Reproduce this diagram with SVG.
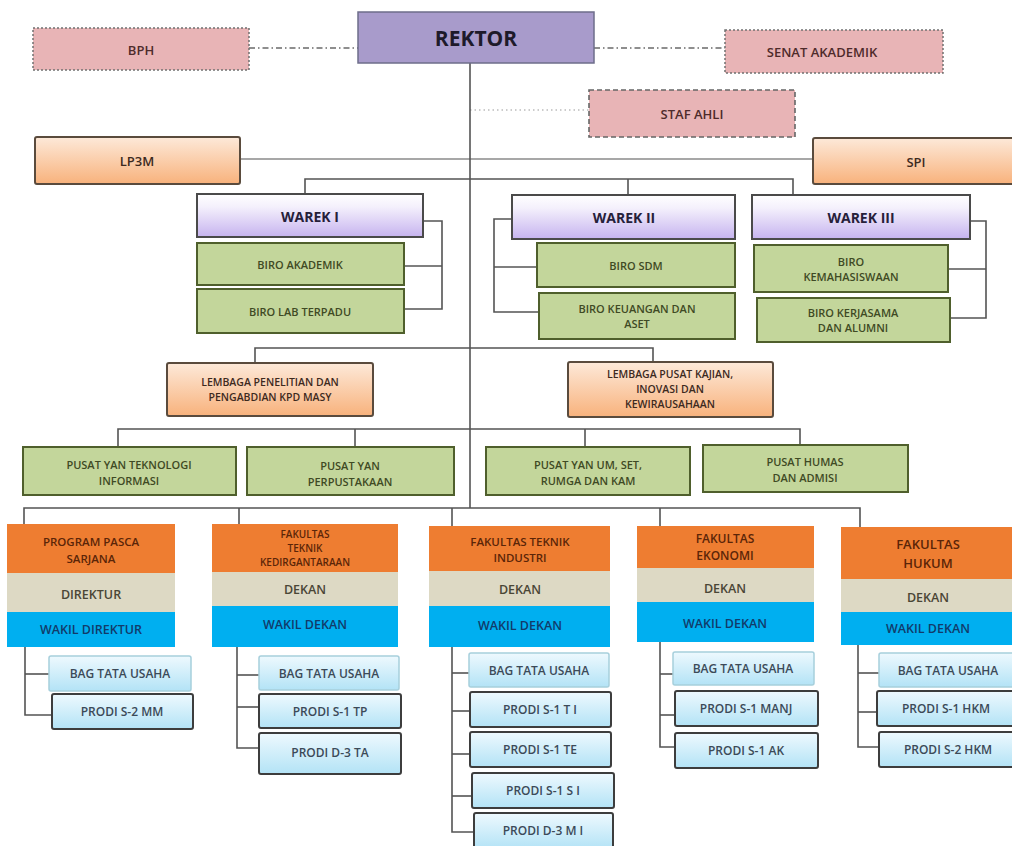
<svg xmlns="http://www.w3.org/2000/svg" width="1012" height="846" viewBox="0 0 1012 846">
<defs>
<linearGradient id="gPeach" x1="0" y1="0" x2="0" y2="1"><stop offset="0" stop-color="#fde9d9"/><stop offset="1" stop-color="#f8b27c"/></linearGradient>
<linearGradient id="gLav" x1="0" y1="0" x2="0" y2="1"><stop offset="0" stop-color="#ffffff"/><stop offset="0.3" stop-color="#f4f0fc"/><stop offset="1" stop-color="#c6b3ef"/></linearGradient>
<linearGradient id="gCyan" x1="0" y1="0" x2="0" y2="1"><stop offset="0" stop-color="#eef9fe"/><stop offset="1" stop-color="#b3e3f6"/></linearGradient>
<style>
text{font-family:"Open Sans","Noto Sans","DejaVu Sans",sans-serif;text-anchor:middle;dominant-baseline:central;font-weight:600}
.ln{stroke:#545454;stroke-width:1.6;fill:none}
.lnl{stroke:#8a8a8a;stroke-width:1.3;fill:none}
.dd{stroke:#6a6a6a;stroke-width:1.3;fill:none;stroke-dasharray:6 3 1.5 3}
.dt{stroke:#9a9a9a;stroke-width:1.2;fill:none;stroke-dasharray:1.5 3}
.rek{fill:#a89bcb;stroke:#6e6e8a;stroke-width:1.5}
.pk{fill:#e8b4b6;stroke:#707070;stroke-width:1.5;stroke-dasharray:2 2}
.pkd{fill:#e8b4b6;stroke:#666;stroke-width:1.6;stroke-dasharray:5 3}
.pch{fill:url(#gPeach);stroke:#5a4b3d;stroke-width:2}
.wk{fill:url(#gLav);stroke:#4a4a4a;stroke-width:2}
.gr{fill:#c3d69b;stroke:#4f5f2c;stroke-width:2}
.or{fill:#ee7d31}
.bg{fill:#ddd9c4}
.bl{fill:#00aff0}
.cy{fill:url(#gCyan);stroke:#3d3d3d;stroke-width:2}
.cyl{fill:url(#gCyan);stroke:#a6cfdc;stroke-width:1.5}
.tpk{fill:#4e2b2b;font-size:13px}
.tgr{fill:#3f4a24;font-size:11px}
.tpc{fill:#3d2a1e;font-size:10.5px}
.tfo{fill:#5b2508;font-size:11.5px}
.tdk{fill:#4a4636;font-size:12.5px}
.twk{fill:#123b6a;font-size:12.5px}
.tcy{fill:#3c4a58;font-size:12px}
</style>
</defs>

<g id="connectors">
<line class="dd" x1="249" y1="48" x2="358" y2="48"/>
<line class="dd" x1="594" y1="48" x2="725" y2="48"/>
<line class="dt" x1="470" y1="110" x2="589" y2="110"/>
<line class="lnl" x1="240" y1="159" x2="813" y2="159"/>
<line class="ln" x1="470" y1="63" x2="470" y2="508"/>
<polyline class="ln" points="305,194 305,179 793,179 793,195"/>
<line class="ln" x1="628" y1="179" x2="628" y2="195"/>
<polyline class="ln" points="423,221 442,221 442,309 404,309"/>
<line class="ln" x1="404" y1="266" x2="442" y2="266"/>
<polyline class="ln" points="512,219 494,219 494,312 539,312"/>
<line class="ln" x1="494" y1="267" x2="537" y2="267"/>
<polyline class="ln" points="970,221 986,221 986,318 950,318"/>
<line class="ln" x1="948" y1="269" x2="986" y2="269"/>
<polyline class="ln" points="255,363 255,348 653,348 653,362"/>
<polyline class="ln" points="118,447 118,429 800,429 800,445"/>
<line class="ln" x1="355" y1="429" x2="355" y2="447"/>
<line class="ln" x1="585" y1="429" x2="585" y2="447"/>
<polyline class="ln" points="24,524 24,508 860,508 860,527"/>
<line class="ln" x1="239" y1="508" x2="239" y2="524"/>
<line class="ln" x1="452" y1="508" x2="452" y2="526"/>
<line class="ln" x1="660" y1="508" x2="660" y2="526"/>
<polyline class="ln" points="25,647 25,715 52,715"/>
<line class="ln" x1="25" y1="674" x2="49" y2="674"/>
<polyline class="ln" points="237,647 237,748 259,748"/>
<line class="ln" x1="237" y1="675" x2="259" y2="675"/>
<line class="ln" x1="237" y1="707" x2="259" y2="707"/>
<polyline class="ln" points="452,647 452,832 474,832"/>
<line class="ln" x1="452" y1="673" x2="469" y2="673"/>
<line class="ln" x1="452" y1="711" x2="470" y2="711"/>
<line class="ln" x1="452" y1="754" x2="470" y2="754"/>
<line class="ln" x1="452" y1="796" x2="472" y2="796"/>
<polyline class="ln" points="660,642 660,747 675,747"/>
<line class="ln" x1="660" y1="674" x2="673" y2="674"/>
<line class="ln" x1="660" y1="715" x2="675" y2="715"/>
<polyline class="ln" points="858,645 858,747 879,747"/>
<line class="ln" x1="858" y1="673" x2="879" y2="673"/>
<line class="ln" x1="858" y1="712" x2="877" y2="712"/>
</g>

<g id="rektor"><rect class="rek" x="358" y="12" width="236" height="51"/><text x="476" y="38" style="font-size:21px;font-weight:700;fill:#1e1a2a">REKTOR</text></g>
<g id="bph"><rect class="pk" x="33" y="28" width="216" height="42"/><text class="tpk" x="141" y="50">BPH</text></g>
<g id="senat"><rect class="pk" x="725" y="30" width="218" height="43"/><text class="tpk" x="822" y="52">SENAT AKADEMIK</text></g>
<g id="staf"><rect class="pkd" x="589" y="90" width="206" height="47"/><text class="tpk" x="692" y="114">STAF AHLI</text></g>
<g id="lp3m"><rect class="pch" x="35" y="137" width="205" height="47" rx="2"/><text class="tpk" x="137" y="161" style="fill:#3d2a1e">LP3M</text></g>
<g id="spi"><rect class="pch" x="813" y="138" width="210" height="46" rx="2"/><text class="tpk" x="916" y="162" style="fill:#3d2a1e">SPI</text></g>

<g id="warek1"><rect class="wk" x="197" y="194" width="226" height="43"/><text x="310" y="216" style="font-size:14px;font-weight:700;fill:#26203a">WAREK I</text></g>
<g id="biro-akademik"><rect class="gr" x="197" y="243" width="207" height="42"/><text class="tgr" x="300" y="264">BIRO AKADEMIK</text></g>
<g id="biro-lab"><rect class="gr" x="197" y="289" width="207" height="44"/><text class="tgr" x="300" y="311">BIRO LAB TERPADU</text></g>

<g id="warek2"><rect class="wk" x="512" y="195" width="223" height="44"/><text x="624" y="217" style="font-size:14px;font-weight:700;fill:#26203a">WAREK II</text></g>
<g id="biro-sdm"><rect class="gr" x="537" y="243" width="198" height="44"/><text class="tgr" x="636" y="265">BIRO SDM</text></g>
<g id="biro-keu"><rect class="gr" x="539" y="293" width="196" height="46"/><text class="tgr" x="637" y="308">BIRO KEUANGAN DAN</text><text class="tgr" x="637" y="323">ASET</text></g>

<g id="warek3"><rect class="wk" x="752" y="195" width="218" height="44"/><text x="861" y="217" style="font-size:14px;font-weight:700;fill:#26203a">WAREK III</text></g>
<g id="biro-kemhs"><rect class="gr" x="754" y="245" width="194" height="47"/><text class="tgr" x="851" y="261">BIRO</text><text class="tgr" x="851" y="276">KEMAHASISWAAN</text></g>
<g id="biro-kerjasama"><rect class="gr" x="757" y="298" width="193" height="44"/><text class="tgr" x="853" y="312">BIRO KERJASAMA</text><text class="tgr" x="853" y="327">DAN ALUMNI</text></g>

<g id="lembaga-penelitian"><rect class="pch" x="167" y="363" width="206" height="53" rx="2"/><text class="tpc" x="270" y="382">LEMBAGA PENELITIAN DAN</text><text class="tpc" x="270" y="397">PENGABDIAN KPD MASY</text></g>
<g id="lembaga-pusat"><rect class="pch" x="568" y="362" width="205" height="55" rx="2"/><text class="tpc" x="670" y="374">LEMBAGA PUSAT KAJIAN,</text><text class="tpc" x="670" y="389">INOVASI DAN</text><text class="tpc" x="670" y="404">KEWIRAUSAHAAN</text></g>

<g id="pusat-ti"><rect class="gr" x="23" y="447" width="213" height="48"/><text class="tgr" x="129" y="464">PUSAT YAN TEKNOLOGI</text><text class="tgr" x="129" y="480">INFORMASI</text></g>
<g id="pusat-perpus"><rect class="gr" x="247" y="447" width="207" height="48"/><text class="tgr" x="350" y="465">PUSAT YAN</text><text class="tgr" x="350" y="481">PERPUSTAKAAN</text></g>
<g id="pusat-um"><rect class="gr" x="486" y="447" width="204" height="48"/><text class="tgr" x="588" y="464">PUSAT YAN UM, SET,</text><text class="tgr" x="588" y="480">RUMGA DAN KAM</text></g>
<g id="pusat-humas"><rect class="gr" x="703" y="445" width="205" height="47"/><text class="tgr" x="805" y="461">PUSAT HUMAS</text><text class="tgr" x="805" y="477">DAN ADMISI</text></g>

<g id="pasca">
<rect class="or" x="7" y="524" width="168" height="49"/><rect class="bg" x="7" y="573" width="168" height="39"/><rect class="bl" x="7" y="612" width="168" height="35"/>
<text class="tfo" x="91" y="541">PROGRAM PASCA</text><text class="tfo" x="91" y="558">SARJANA</text>
<text class="tdk" x="91" y="594">DIREKTUR</text><text class="twk" x="91" y="629">WAKIL DIREKTUR</text>
</g>
<g id="pasca-bag"><rect class="cyl" x="49" y="656" width="142" height="35" rx="2"/><text class="tcy" x="120" y="673">BAG TATA USAHA</text></g>
<g id="pasca-mm"><rect class="cy" x="52" y="694" width="141" height="35" rx="2"/><text class="tcy" x="122" y="711">PRODI S-2  MM</text></g>

<g id="ftk">
<rect class="or" x="212" y="524" width="186" height="48"/><rect class="bg" x="212" y="572" width="186" height="34"/><rect class="bl" x="212" y="606" width="186" height="41"/>
<text class="tfo" x="305" y="534" style="font-size:10px">FAKULTAS</text><text class="tfo" x="305" y="548" style="font-size:10px">TEKNIK</text><text class="tfo" x="305" y="562" style="font-size:10px">KEDIRGANTARAAN</text>
<text class="tdk" x="305" y="589">DEKAN</text><text class="twk" x="305" y="624">WAKIL DEKAN</text>
</g>
<g id="ftk-bag"><rect class="cyl" x="259" y="656" width="140" height="34" rx="2"/><text class="tcy" x="329" y="673">BAG TATA USAHA</text></g>
<g id="ftk-tp"><rect class="cy" x="259" y="694" width="142" height="34" rx="2"/><text class="tcy" x="330" y="711">PRODI  S-1 TP</text></g>
<g id="ftk-ta"><rect class="cy" x="259" y="733" width="142" height="41" rx="2"/><text class="tcy" x="330" y="752">PRODI D-3 TA</text></g>

<g id="fti">
<rect class="or" x="429" y="526" width="181" height="45"/><rect class="bg" x="429" y="571" width="181" height="35"/><rect class="bl" x="429" y="606" width="181" height="41"/>
<text class="tfo" x="520" y="541">FAKULTAS TEKNIK</text><text class="tfo" x="520" y="557">INDUSTRI</text>
<text class="tdk" x="520" y="589">DEKAN</text><text class="twk" x="520" y="625">WAKIL DEKAN</text>
</g>
<g id="fti-bag"><rect class="cyl" x="469" y="653" width="140" height="34" rx="2"/><text class="tcy" x="539" y="670">BAG TATA USAHA</text></g>
<g id="fti-ti"><rect class="cy" x="470" y="692" width="141" height="35" rx="2"/><text class="tcy" x="540" y="709">PRODI  S-1 T I</text></g>
<g id="fti-te"><rect class="cy" x="470" y="732" width="141" height="35" rx="2"/><text class="tcy" x="540" y="749">PRODI  S-1 TE</text></g>
<g id="fti-si"><rect class="cy" x="472" y="773" width="142" height="35" rx="2"/><text class="tcy" x="543" y="790">PRODI  S-1 S I</text></g>
<g id="fti-mi"><rect class="cy" x="474" y="813" width="139" height="36" rx="2"/><text class="tcy" x="543" y="830">PRODI  D-3 M I</text></g>

<g id="fe">
<rect class="or" x="637" y="526" width="177" height="42"/><rect class="bg" x="637" y="568" width="177" height="34"/><rect class="bl" x="637" y="602" width="177" height="40"/>
<text class="tfo" x="725" y="538" style="font-size:12px">FAKULTAS</text><text class="tfo" x="725" y="555" style="font-size:12px">EKONOMI</text>
<text class="tdk" x="725" y="588">DEKAN</text><text class="twk" x="725" y="623">WAKIL DEKAN</text>
</g>
<g id="fe-bag"><rect class="cyl" x="673" y="652" width="141" height="33" rx="2"/><text class="tcy" x="743" y="668">BAG TATA USAHA</text></g>
<g id="fe-manj"><rect class="cy" x="675" y="691" width="143" height="35" rx="2"/><text class="tcy" x="746" y="708">PRODI  S-1 MANJ</text></g>
<g id="fe-ak"><rect class="cy" x="675" y="733" width="143" height="35" rx="2"/><text class="tcy" x="746" y="750">PRODI  S-1 AK</text></g>

<g id="fh">
<rect class="or" x="841" y="527" width="180" height="52"/><rect class="bg" x="841" y="579" width="180" height="33"/><rect class="bl" x="841" y="612" width="180" height="33"/>
<text class="tfo" x="928" y="544" style="font-size:13px">FAKULTAS</text><text class="tfo" x="928" y="563" style="font-size:13px">HUKUM</text>
<text class="tdk" x="928" y="597">DEKAN</text><text class="twk" x="928" y="628">WAKIL DEKAN</text>
</g>
<g id="fh-bag"><rect class="cyl" x="879" y="653" width="140" height="34" rx="2"/><text class="tcy" x="948" y="670">BAG TATA USAHA</text></g>
<g id="fh-s1"><rect class="cy" x="877" y="691" width="142" height="35" rx="2"/><text class="tcy" x="946" y="708">PRODI  S-1 HKM</text></g>
<g id="fh-s2"><rect class="cy" x="879" y="732" width="140" height="35" rx="2"/><text class="tcy" x="948" y="749">PRODI  S-2 HKM</text></g>
</svg>
